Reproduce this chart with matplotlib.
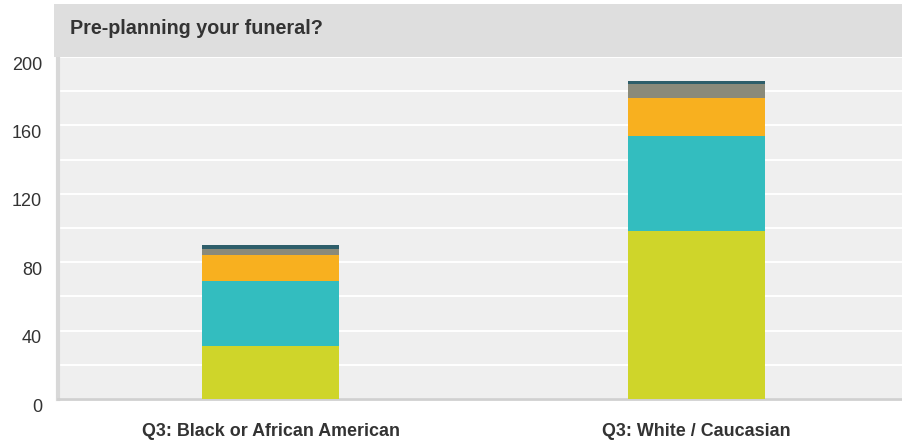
import matplotlib
matplotlib.use("Agg")
import matplotlib.pyplot as plt
import matplotlib.transforms as mtransforms
from matplotlib.patches import Rectangle
import numpy as np

plt.rcParams['font.family'] = ['Liberation Sans', 'DejaVu Sans']

title = "Pre-planning your funeral?"
categories = ["Q3: Black or African American", "Q3: White / Caucasian"]
series_names = ["s1", "s2", "s3", "s4", "s5"]
series_values = [
    [31, 98],
    [38, 56],
    [15, 22],
    [4, 8],
    [2, 2],
]
series_colors = ["#cfd52a", "#33bdbf", "#f8b01f", "#8a8a7a", "#2e5e6a"]
y_ticks = [0, 40, 80, 120, 160, 200]

W, H = 902, 447
fig = plt.figure(figsize=(W / 100, H / 100), dpi=100)
fig.patch.set_facecolor("white")

# title bar
fig.patches.append(Rectangle((54 / W, (H - 57) / H), (W - 54) / W, 53 / H,
                             transform=fig.transFigure, facecolor="#dedede",
                             edgecolor="none", zorder=0))
fig.text(70 / W, (H - 28) / H, title, fontsize=14.2, fontweight="bold",
         color="#333333", va="center", ha="left")

ax = fig.add_axes([58 / W, (H - 399) / H, (W - 58) / W, 342 / H])
ax.set_facecolor("#efefef")

x = np.arange(len(categories))
bottom = np.zeros(len(categories))
for vals, col in zip(series_values, series_colors):
    ax.bar(x, vals, width=0.3216, bottom=bottom, color=col, zorder=3)
    bottom += np.array(vals)

left_px = 58
x0 = -0.5 + (left_px - 57.5) / 426
x1 = -0.5 + (W - 57.5) / 426
ax.set_xlim(x0, x1)
ax.set_ylim(0, 200)

ax.set_axisbelow(True)
ax.set_yticks(y_ticks)
ax.set_yticks(np.arange(0, 201, 20), minor=True)
ax.yaxis.grid(True, which="both", color="white", linewidth=1.4)
ax.tick_params(axis="y", which="both", length=0, pad=11.5, labelsize=13,
               labelcolor="#333333")
offset = mtransforms.ScaledTranslation(0, -6 / 100, fig.dpi_scale_trans)
for lbl in ax.get_yticklabels():
    lbl.set_transform(lbl.get_transform() + offset)

ax.set_xticks(x)
ax.set_xticklabels(categories, fontsize=12.9, fontweight="bold", color="#333333")
ax.tick_params(axis="x", length=0, pad=17)

for s in ["top", "right"]:
    ax.spines[s].set_visible(False)
ax.spines["left"].set_color("#d8d8d8")
ax.spines["left"].set_linewidth(3)
ax.spines["bottom"].set_color("#d0d0d0")
ax.spines["bottom"].set_linewidth(2)

fig.savefig("out.png", dpi=100)
